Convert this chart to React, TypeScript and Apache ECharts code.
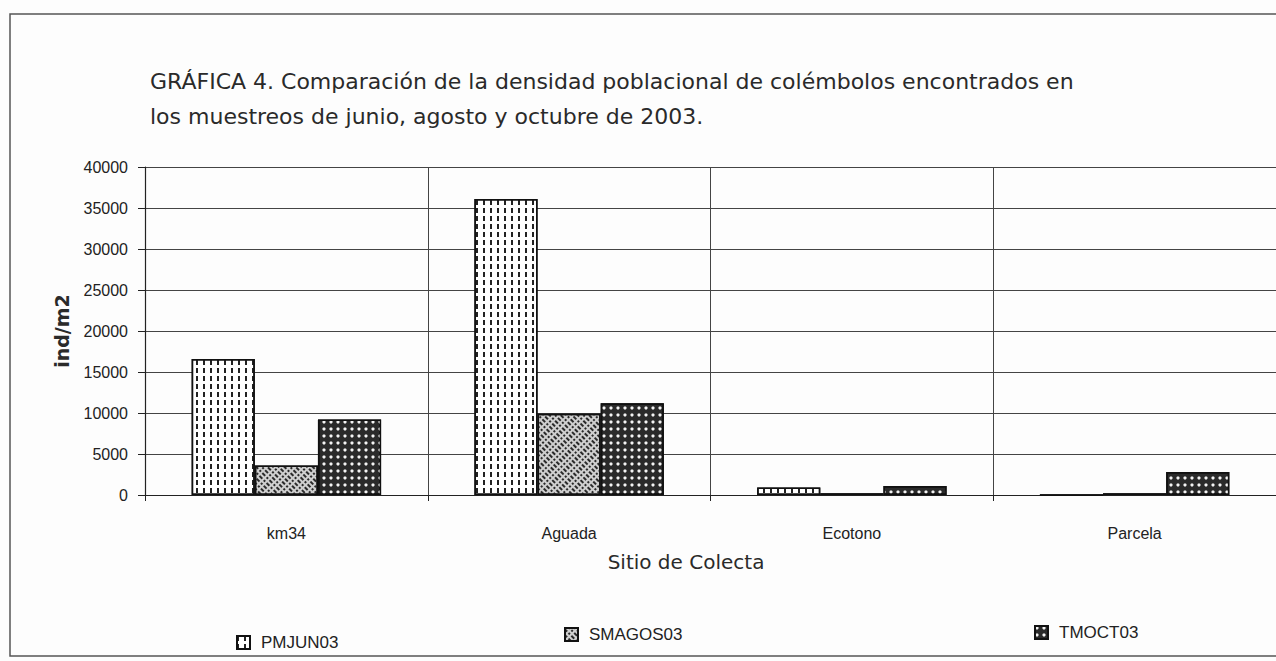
import React, { useEffect, useRef } from "react";
import * as echarts from "echarts";

const categories = ["km34", "Aguada", "Ecotono", "Parcela"];
const PMJUN03 = [16600, 36100, 900, 0];
const SMAGOS03 = [3600, 9900, 200, 200];
const TMOCT03 = [9200, 11200, 1100, 2800];
const seriesNames = ["PMJUN03", "SMAGOS03", "TMOCT03"];

export default function App() {
  const ref = useRef<HTMLDivElement>(null);
  useEffect(() => {
    const chart = echarts.init(ref.current!, null, { renderer: "svg" });
    const border = { borderColor: "#111", borderWidth: 1.5 };
    chart.setOption({
      animation: false,
      backgroundColor: "#fdfdfd",
      title: {
        text:
          "GRÁFICA 4. Comparación de la densidad poblacional de colémbolos encontrados en\nlos muestreos de junio, agosto y octubre de 2003.",
        left: 145,
        top: 59,
        textStyle: {
          fontFamily: "DejaVu Sans",
          fontWeight: "normal",
          fontSize: 22,
          lineHeight: 35,
          color: "#2a2a2a",
        },
      },
      graphic: [
        {
          type: "rect",
          shape: { x: 10, y: 14, width: 1270, height: 642 },
          style: { fill: "none", stroke: "#555", lineWidth: 1.5 },
          silent: true,
        },
        {
          type: "text",
          x: 686,
          y: 562,
          style: {
            text: "Sitio de Colecta",
            fontFamily: "DejaVu Sans",
            fontSize: 20,
            fill: "#2a2a2a",
            align: "center",
            verticalAlign: "middle",
          },
          silent: true,
        },
      ],
      legend: [
        { data: [seriesNames[0]], left: 231, top: 629 },
        { data: [seriesNames[1]], left: 559, top: 621 },
        { data: [seriesNames[2]], left: 1029, top: 619 },
      ].map((l) => ({
        ...l,
        itemWidth: 13,
        itemHeight: 13,
        icon: "rect",
        textStyle: {
          fontFamily: "Liberation Sans",
          fontSize: 17,
          color: "#222",
          padding: [0, 0, 0, 6],
        },
      })),
      grid: { left: 145, right: 0, top: 167, bottom: 166 },
      xAxis: {
        type: "category",
        data: categories,
        axisLine: { lineStyle: { color: "#222", width: 1.2 } },
        axisTick: { show: true, length: 6, lineStyle: { color: "#222" } },
        axisLabel: {
          margin: 30,
          fontFamily: "Liberation Sans",
          fontSize: 16,
          color: "#222",
        },
        splitLine: { show: true, lineStyle: { color: "#444", width: 1 } },
      },
      yAxis: {
        type: "value",
        min: 0,
        max: 40000,
        interval: 5000,
        name: "ind/m2",
        nameLocation: "middle",
        nameGap: 74,
        nameTextStyle: {
          fontFamily: "DejaVu Sans",
          fontSize: 19,
          fontWeight: "bold",
          color: "#2a2a2a",
        },
        axisLine: { show: true, lineStyle: { color: "#222", width: 1.2 } },
        axisTick: { show: true, length: 7, lineStyle: { color: "#222" } },
        axisLabel: {
          margin: 17,
          fontFamily: "Liberation Sans",
          fontSize: 16,
          color: "#222",
          formatter: (v: number) => String(v),
        },
        splitLine: { show: true, lineStyle: { color: "#444", width: 1 } },
      },
      series: [
        {
          name: seriesNames[0],
          type: "bar",
          data: PMJUN03,
          barGap: "0%",
          barCategoryGap: "33%",
          itemStyle: {
            color: "#ffffff",
            ...border,
            decal: {
              symbol: "rect",
              symbolSize: 1,
              color: "#222",
              dashArrayX: [2, 5],
              dashArrayY: [5, 3],
              rotation: 0,
            },
          },
        },
        {
          name: seriesNames[1],
          type: "bar",
          data: SMAGOS03,
          barGap: "0%",
          barCategoryGap: "33%",
          itemStyle: {
            color: "#cfcfcf",
            ...border,
            decal: {
              symbol: "rect",
              symbolSize: 1,
              color: "#2a2a2a",
              dashArrayX: [[4, 2, 2, 2]],
              dashArrayY: [1.5, 2],
              rotation: Math.PI / 4,
            },
          },
        },
        {
          name: seriesNames[2],
          type: "bar",
          data: TMOCT03,
          barGap: "0%",
          barCategoryGap: "33%",
          itemStyle: {
            color: "#2a2a2a",
            ...border,
            decal: {
              symbol: "circle",
              symbolSize: 0.8,
              color: "#f4f4f4",
              dashArrayX: [4, 3],
              dashArrayY: [4, 3],
              rotation: 0,
            },
          },
        },
      ],
    });
    return () => chart.dispose();
  }, []);
  return (
    <div
      ref={ref}
      style={{ position: "fixed", left: 0, top: 0, width: 1276, height: 661 }}
    />
  );
}
